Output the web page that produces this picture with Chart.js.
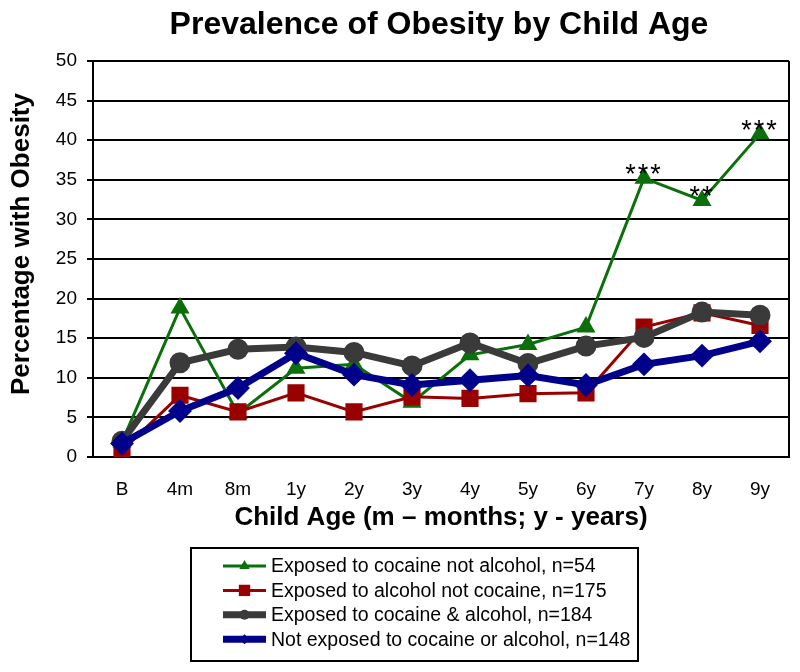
<!DOCTYPE html>
<html>
<head>
<meta charset="utf-8">
<title>Prevalence of Obesity by Child Age</title>
<script src="https://cdn.jsdelivr.net/npm/chart.js@4.4.1/dist/chart.umd.min.js"></script>
<style>
    html, body { margin: 0; padding: 0; background: #fff; }
    #wrap { width: 800px; height: 672px; }
</style>
</head>
<body>
<div id="wrap"><canvas id="obesityChart" width="800" height="672"></canvas></div>
<script>
// Data
const ages = ['B', '4m', '8m', '1y', '2y', '3y', '4y', '5y', '6y', '7y', '8y', '9y'];
const cocaineOnly = [1.9, 18.8, 5.5, 11.2, 11.7, 6.9, 12.9, 14.2, 16.4, 35.2, 32.4, 40.8];
const alcoholOnly = [0.8, 7.8, 5.7, 8.1, 5.7, 7.6, 7.4, 8.0, 8.1, 16.4, 18.2, 16.6];
const bothExposed = [2.0, 11.9, 13.6, 13.9, 13.2, 11.5, 14.4, 11.8, 14.0, 15.1, 18.3, 17.9];
const notExposed = [1.7, 5.8, 8.7, 13.1, 10.4, 9.1, 9.7, 10.3, 9.1, 11.7, 12.8, 14.6];
const seriesNames = [
    'Exposed to cocaine not alcohol, n=54',
    'Exposed to alcohol not cocaine, n=175',
    'Exposed to cocaine & alcohol, n=184',
    'Not exposed to cocaine or alcohol, n=148'
];
const yMin = 0;
const yMax = 50;
const yStep = 5;
const yTitle = 'Percentage with Obesity';
// significance marks on the cocaine-only series
const starAges = ['7y', '8y', '9y'];
const starMarks = ['***', '**', '***'];

const FONT = '"Liberation Sans", Arial, sans-serif';

// Boxed legend under the axis title
const boxLegend = {
    id: 'boxLegend',
    afterDraw(chart) {
        const ctx = chart.ctx;
        ctx.save();
        ctx.lineWidth = 2;
        ctx.strokeStyle = '#000';
        ctx.strokeRect(191, 548, 447, 113);
        chart.data.datasets.forEach((ds, i) => {
            const y = 566 + i * 24.4;
            ctx.strokeStyle = ds.borderColor;
            ctx.lineWidth = ds.borderWidth;
            ctx.beginPath();
            ctx.moveTo(223, y);
            ctx.lineTo(266, y);
            ctx.stroke();
            ctx.fillStyle = ds.backgroundColor;
            Chart.helpers.drawPoint(ctx, {
                pointStyle: ds.pointStyle,
                radius: ds.legendRadius,
                borderWidth: 0,
                rotation: 0
            }, 244.5, y);
            ctx.fillStyle = '#000';
            ctx.font = '19.5px ' + FONT;
            ctx.textAlign = 'left';
            ctx.textBaseline = 'middle';
            ctx.fillText(seriesNames[i], 271, y + 1);
        });
        ctx.restore();
    }
};

// Right-hand frame line, y title and the asterisks
const extras = {
    id: 'extras',
    afterLayout(chart) {
        // stretch the plot box out to the reference's right frame
        const area = chart.chartArea;
        const xs = chart.scales.x;
        const shift = 789 - area.right;
        if (shift !== 0) {
            area.right += shift;
            area.width = area.right - area.left;
            xs.right += shift;
            xs.width = xs.right - xs.left;
            xs.configure();
        }
    },
    beforeDatasetsDraw(chart) {
        const { ctx, chartArea } = chart;
        ctx.save();
        ctx.strokeStyle = '#000';
        ctx.lineWidth = 2;
        ctx.beginPath();
        ctx.moveTo(chartArea.right, chartArea.top);
        ctx.lineTo(chartArea.right, chartArea.bottom);
        ctx.stroke();

        // y axis title sits a little above the plot's middle
        ctx.translate(22, 244);
        ctx.rotate(-Math.PI / 2);
        ctx.fillStyle = '#000';
        ctx.font = 'bold 26px ' + FONT;
        ctx.textAlign = 'center';
        ctx.textBaseline = 'middle';
        ctx.fillText(yTitle, 0, 0);
        ctx.restore();
    },
    afterDatasetsDraw(chart) {
        const ctx = chart.ctx;
        const meta = chart.getDatasetMeta(0);
        ctx.save();
        ctx.fillStyle = '#000';
        ctx.font = '27px ' + FONT;
        ctx.textAlign = 'center';
        ctx.textBaseline = 'alphabetic';
        ctx.letterSpacing = '2px';
        starAges.forEach((age, k) => {
            const pt = meta.data[ages.indexOf(age)];
            ctx.fillText(starMarks[k], pt.x, pt.y + 5);
        });
        ctx.restore();
    }
};

document.addEventListener('DOMContentLoaded', () => {
    const ctx = document.getElementById('obesityChart');

    new Chart(ctx, {
        type: 'line',
        data: {
            labels: ages,
            datasets: [
                {
                    label: seriesNames[0],
                    data: cocaineOnly,
                    borderColor: '#0b6f0b',
                    backgroundColor: '#0b6f0b',
                    borderWidth: 3,
                    pointStyle: 'triangle',
                    pointRadius: 8,
                    legendRadius: 6,
                    order: 4
                },
                {
                    label: seriesNames[1],
                    data: alcoholOnly,
                    borderColor: '#990000',
                    backgroundColor: '#990000',
                    borderWidth: 3,
                    pointStyle: 'rect',
                    pointRadius: 10,
                    legendRadius: 8,
                    order: 3
                },
                {
                    label: seriesNames[2],
                    data: bothExposed,
                    borderColor: '#3a3a3a',
                    backgroundColor: '#3a3a3a',
                    borderWidth: 7,
                    pointStyle: 'circle',
                    pointRadius: 7,
                    legendRadius: 5,
                    order: 2
                },
                {
                    label: seriesNames[3],
                    data: notExposed,
                    borderColor: '#00008b',
                    backgroundColor: '#00008b',
                    borderWidth: 7,
                    pointStyle: 'rectRot',
                    pointRadius: 7,
                    legendRadius: 5,
                    order: 1
                }
            ]
        },
        options: {
            responsive: false,
            animation: false,
            devicePixelRatio: 1,
            layout: {
                padding: { top: 0, left: 0, right: 11, bottom: 135 }
            },
            elements: {
                line: { tension: 0 },
                point: { borderWidth: 1, hoverRadius: 8 }
            },
            plugins: {
                legend: { display: false },
                tooltip: { enabled: false },
                title: {
                    display: true,
                    fullSize: false,
                    text: 'Prevalence of Obesity by Child Age',
                    color: '#000',
                    font: { family: FONT, size: 32, weight: 'bold' },
                    padding: { top: 6, bottom: 16.6 }
                }
            },
            scales: {
                x: {
                    offset: true,
                    grid: { display: false, drawTicks: false },
                    border: { display: true, color: '#000', width: 2 },
                    ticks: {
                        color: '#000',
                        font: { family: FONT, size: 19 },
                        padding: 21,
                        maxRotation: 0
                    },
                    title: {
                        display: true,
                        text: 'Child Age (m \u2013 months; y - years)',
                        color: '#000',
                        font: { family: FONT, size: 26, weight: 'bold' },
                        padding: { top: 0, bottom: 4 }
                    },
                    afterFit(scale) { scale.height = 80; }
                },
                y: {
                    min: yMin,
                    max: yMax,
                    grid: { color: '#000', lineWidth: 2, tickLength: 6 },
                    border: { display: true, color: '#000', width: 2 },
                    ticks: {
                        stepSize: yStep,
                        color: '#000',
                        font: { family: FONT, size: 19 },
                        padding: 10
                    },
                    title: { display: false },
                    afterFit(scale) { scale.width = 93; }
                }
            }
        },
        plugins: [extras, boxLegend]
    });
});
</script>
</body>
</html>
